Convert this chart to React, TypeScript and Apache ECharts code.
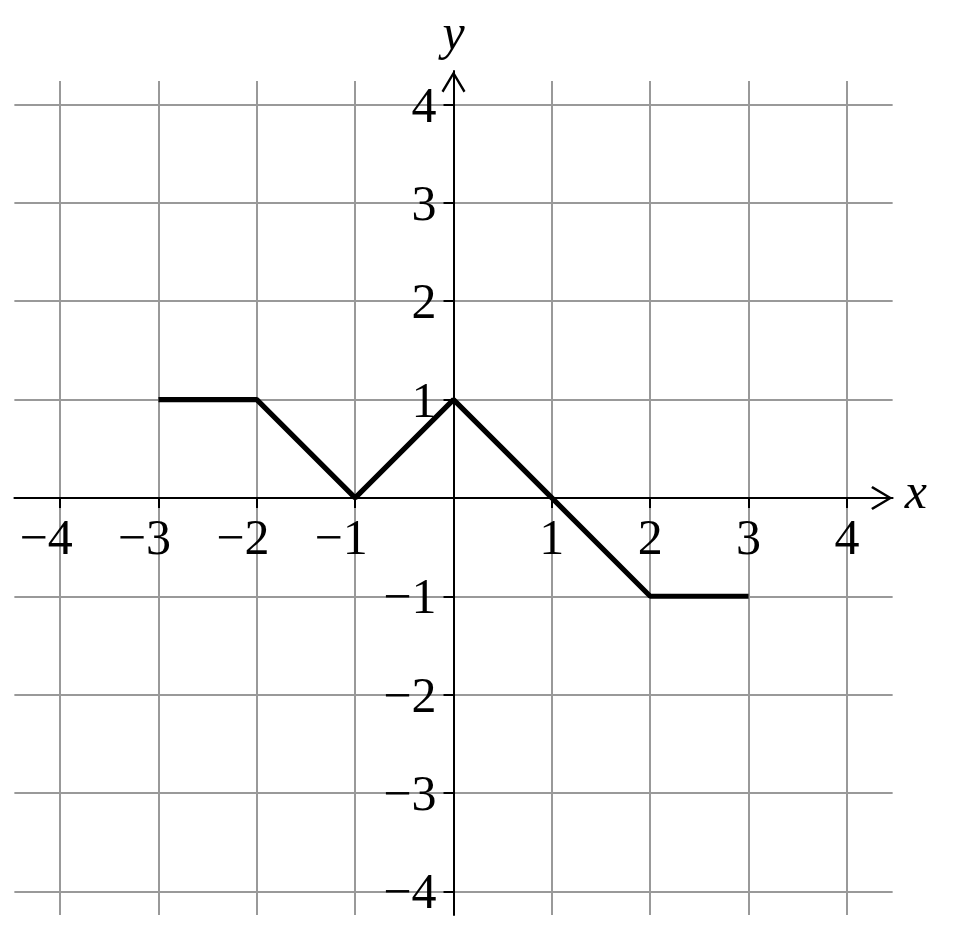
import * as echarts from "echarts";
import React, { useEffect, useRef } from "react";

// piecewise linear function
const curveX = [-3, -2, -1, 0, 1, 2, 3];
const curveY = [1, 1, 0, 1, 0, -1, -1];

// grid lines at integer positions
const gridX = [-4, -3, -2, -1, 0, 1, 2, 3, 4];
const gridY = [-4, -3, -2, -1, 0, 1, 2, 3, 4];

// how far the axes / grid lines reach
const xReach = 4.465;
const yLow = -4.24;
const yHigh = 4.34;
const gridYReach = 4.24;

const W = 953;
const H = 933;
const UNIT = 98.35;
const OX = 453.5;
const OY = 497.9;

const FONT = "Liberation Serif";
const ARROW = "path://M12 0 L24 20 L22 21.5 L12 4.5 L2 21.5 L0 20 Z";

const minus = (v: number) => (v < 0 ? "\u2212" + Math.abs(v) : String(v));

const App: React.FC = () => {
  const chartRef = useRef<HTMLDivElement | null>(null);

  useEffect(() => {
    const chart = echarts.init(chartRef.current, null, { renderer: "svg" });

    const outerGrid = {
      left: OX - xReach * UNIT,
      right: W - (OX + xReach * UNIT),
      top: OY - yHigh * UNIT,
      bottom: H - (OY - yLow * UNIT),
      containLabel: false,
      outerBoundsMode: "none",
    };
    const innerGrid = {
      left: OX - 4 * UNIT,
      right: W - (OX + 4 * UNIT),
      top: OY - 4 * UNIT,
      bottom: H - (OY + 4 * UNIT),
      containLabel: false,
      outerBoundsMode: "none",
    };

    const axisLine = {
      show: true,
      onZero: true,
      symbol: ["none", ARROW],
      symbolSize: [24, 21.5],
      symbolOffset: [0, -10.75],
      lineStyle: { color: "#000", width: 2 },
    };
    // inner axes only carry ticks and labels; they are moved onto the origin by offset
    const hiddenLine = { show: false, onZero: false };
    const tick = { show: true, length: 10, lineStyle: { color: "#000", width: 2 } };
    const nameStyle = {
      fontFamily: FONT,
      fontStyle: "italic",
      fontSize: 50,
      color: "#000",
    };

    const gridLines: any[] = [];
    gridX.forEach((gx) =>
      gridLines.push([{ coord: [gx, -gridYReach] }, { coord: [gx, gridYReach] }])
    );
    gridY.forEach((gy) =>
      gridLines.push([{ coord: [-xReach, gy] }, { coord: [xReach, gy] }])
    );

    chart.setOption({
      animation: false,
      backgroundColor: "#fff",
      grid: [outerGrid, innerGrid],
      xAxis: [
        {
          type: "value",
          gridIndex: 0,
          min: -xReach,
          max: xReach,
          z: 2,
          axisLine,
          axisTick: { show: false },
          axisLabel: { show: false },
          splitLine: { show: false },
          name: "x",
          nameLocation: "end",
          nameGap: 12,
          nameTextStyle: { ...nameStyle, verticalAlign: "bottom", lineHeight: 14 },
        },
        {
          type: "value",
          gridIndex: 1,
          position: "bottom",
          offset: -4 * UNIT,
          min: -4,
          max: 4,
          interval: 1,
          z: 2,
          axisLine: hiddenLine,
          axisTick: tick,
          splitLine: { show: false },
          axisLabel: {
            margin: 14,
            fontFamily: FONT,
            fontSize: 50,
            color: "#000",
            formatter: (v: number) =>
              v === 0 ? "" : v < 0 ? `{neg|${minus(v)}}` : minus(v),
            rich: {
              neg: {
                fontFamily: FONT,
                fontSize: 50,
                color: "#000",
                padding: [0, 28, 0, 0],
              },
            },
          },
        },
      ],
      yAxis: [
        {
          type: "value",
          gridIndex: 0,
          min: yLow,
          max: yHigh,
          z: 2,
          axisLine,
          axisTick: { show: false },
          axisLabel: { show: false },
          splitLine: { show: false },
          name: "y",
          nameLocation: "end",
          nameGap: 14,
          nameTextStyle: nameStyle,
        },
        {
          type: "value",
          gridIndex: 1,
          position: "left",
          offset: -4 * UNIT,
          min: -4,
          max: 4,
          interval: 1,
          z: 2,
          axisLine: hiddenLine,
          axisTick: tick,
          splitLine: { show: false },
          axisLabel: {
            margin: 17,
            fontFamily: FONT,
            fontSize: 50,
            color: "#000",
            formatter: (v: number) => (v === 0 ? "" : minus(v)),
          },
        },
      ],
      series: [
        {
          type: "line",
          xAxisIndex: 0,
          yAxisIndex: 0,
          data: [],
          silent: true,
          markLine: {
            z: 1,
            silent: true,
            symbol: ["none", "none"],
            label: { show: false },
            lineStyle: { color: "#999", width: 2, type: "solid" },
            emphasis: { disabled: true },
            data: gridLines,
          },
        },
        {
          type: "line",
          xAxisIndex: 0,
          yAxisIndex: 0,
          z: 3,
          symbol: "none",
          silent: true,
          lineStyle: { color: "#000", width: 5.2 },
          data: curveX.map((x, i) => [x, curveY[i]]),
        },
      ],
    });

    return () => {
      chart.dispose();
    };
  }, []);

  return (
    <div
      ref={chartRef}
      style={{ position: "absolute", left: 0, top: 0, width: W, height: H }}
    ></div>
  );
};

export default App;
